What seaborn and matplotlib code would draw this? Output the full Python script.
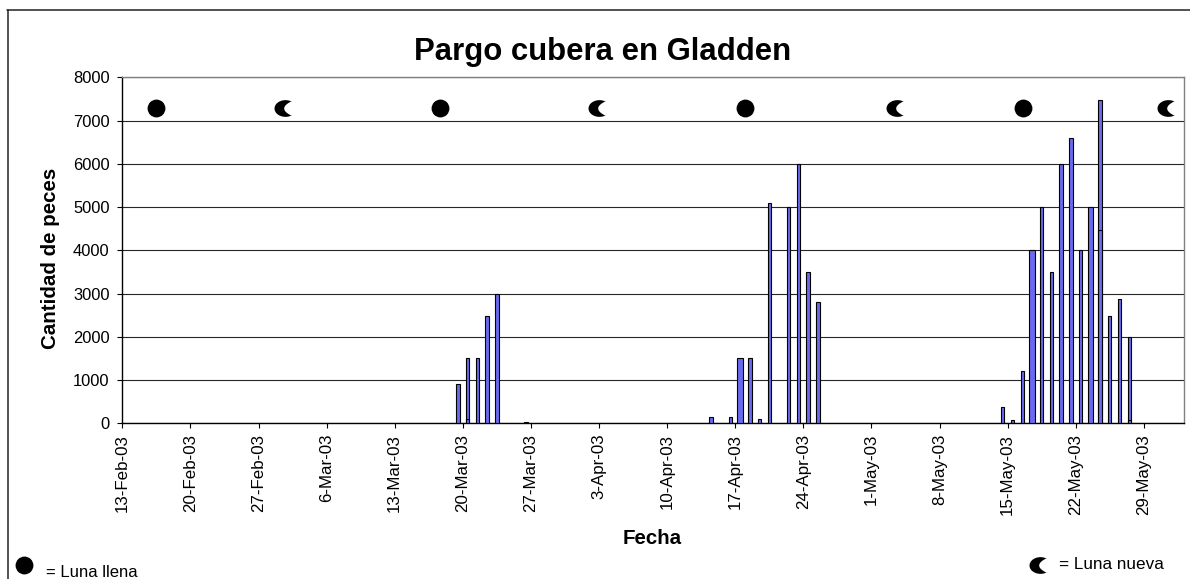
import numpy as np
import pandas as pd
import seaborn as sns
import matplotlib
matplotlib.use("Agg")
import matplotlib.pyplot as plt
from matplotlib.lines import Line2D
from matplotlib.path import Path

# ---- data -------------------------------------------------------------
start = "2003-02-13"
main_dates = ["2003-03-19", "2003-03-20", "2003-03-21", "2003-03-22", "2003-03-23", "2003-03-26",
              "2003-04-14", "2003-04-16", "2003-04-18", "2003-04-19", "2003-04-20", "2003-04-22",
              "2003-04-23", "2003-04-24", "2003-04-25",
              "2003-05-14", "2003-05-15", "2003-05-16", "2003-05-18", "2003-05-19", "2003-05-20",
              "2003-05-21", "2003-05-22", "2003-05-24", "2003-05-25", "2003-05-26", "2003-05-27"]
main_values = [900, 1500, 1500, 2480, 3000, 40,
               150, 150, 1500, 100, 5100, 5000,
               6000, 3500, 2800,
               370, 80, 1200, 5000, 3500, 6000,
               6600, 4000, 7480, 2480, 2880, 2000]
wide_dates = ["2003-04-17", "2003-05-17", "2003-05-23"]
wide_values = [1500, 4000, 5000]
second_dates = ["2003-03-20", "2003-05-24", "2003-05-27"]
second_values = [100, 4480, 80]
full_moon_days = [3.5, 32.7, 64.0, 92.6]
new_moon_days = [16.7, 49.0, 79.6, 107.5]
moon_level = 7290
tick_labels = ["13-Feb-03", "20-Feb-03", "27-Feb-03", "6-Mar-03", "13-Mar-03", "20-Mar-03",
               "27-Mar-03", "3-Apr-03", "10-Apr-03", "17-Apr-03", "24-Apr-03", "1-May-03",
               "8-May-03", "15-May-03", "22-May-03", "29-May-03"]
y_ticks = [0, 1000, 2000, 3000, 4000, 5000, 6000, 7000, 8000]


def days(ds, shift=0.5):
    return np.asarray((pd.to_datetime(ds) - pd.Timestamp(start)).days, dtype=float) + shift


# ---- style ------------------------------------------------------------
sns.set_style("white")
plt.rcParams["font.family"] = ["Liberation Sans", "DejaVu Sans"]
plt.rcParams["text.color"] = "black"

W, H = 1190, 579
fig = plt.figure(figsize=(W / 100, H / 100), dpi=100)
ax = fig.add_axes([122.3 / W, 1 - 423.3 / H, (1183.7 - 122.3) / W, (423.3 - 77.3) / H])

BAR = "#6A6AF0"
kw = dict(color=BAR, saturation=1, edgecolor="black", linewidth=0.8, native_scale=True, ax=ax, zorder=3)
# native_scale multiplies width by the smallest gap between the x values of each call
sns.barplot(x=days(main_dates), y=main_values, width=0.35, **kw)
sns.barplot(x=days(wide_dates), y=wide_values, width=0.55 / 6, **kw)
sns.barplot(x=days(second_dates), y=second_values, width=0.35 / 3, **kw)

# crescent marker: outer elliptical arc, horn tips, then a concave inner curve
a = np.radians(np.linspace(60, 300, 50))
t = np.linspace(-1, 1, 25)
cres = np.vstack([[[0.6, 0.68]],
                  np.c_[np.cos(a), 0.76 * np.sin(a)],
                  np.c_[-0.12 + 0.72 * t ** 2, 0.68 * t]])
cres_path = Path(np.vstack([cres, cres[0]]), closed=True)

sns.scatterplot(x=full_moon_days, y=[moon_level] * len(full_moon_days), marker="o", s=165,
                color="black", linewidth=0, ax=ax, zorder=4, clip_on=False)
sns.scatterplot(x=new_moon_days, y=[moon_level] * len(new_moon_days), marker=cres_path, s=250,
                color="black", linewidth=0, ax=ax, zorder=4, clip_on=False)

ax.set_xlim(0, 109.1)
ax.set_ylim(0, 8000)
ax.set_xticks(np.arange(len(tick_labels)) * 7)
ax.set_xticklabels(tick_labels, rotation=90, fontsize=12.2, color="black")
ax.set_yticks(y_ticks)
ax.set_yticklabels([str(v) for v in y_ticks], fontsize=11.9, color="black")
ax.tick_params(axis="both", which="major", length=3.6, width=0.8, color="black", bottom=True, left=True, pad=4)
ax.tick_params(axis="y", pad=5.5)
ax.set_axisbelow(True)
ax.yaxis.grid(True, color="#262626", linewidth=0.8)
ax.xaxis.grid(False)
for s in ("left", "bottom"):
    ax.spines[s].set_color("black")
    ax.spines[s].set_linewidth(1.0)
for s in ("top", "right"):
    ax.spines[s].set_color("#808080")
    ax.spines[s].set_linewidth(1.0)
    ax.spines[s].set_visible(True)

ax.set_xlabel("")
ax.set_ylabel("")


def fx(x):
    return x / W


def fy(y):
    return 1 - y / H


fig.text(fx(603), fy(60), "Pargo cubera en Gladden", ha="center", va="baseline", fontsize=22.4, fontweight="bold")
fig.text(fx(50), fy(258), "Cantidad de peces", ha="center", va="center", rotation=90, fontsize=14.8, fontweight="bold")
fig.text(fx(652), fy(538), "Fecha", ha="center", va="center", fontsize=14.8, fontweight="bold")
fig.text(fx(46), fy(577), "= Luna llena", ha="left", va="baseline", fontsize=12)
fig.text(fx(1059), fy(569), "= Luna nueva", ha="left", va="baseline", fontsize=12.3)

# outer chart frame (left and top edges visible)
fig.add_artist(Line2D([fx(7.5), fx(7.5)], [fy(579), fy(10)], color="#222222", lw=1.1))
fig.add_artist(Line2D([fx(7), fx(1190)], [fy(10), fy(10)], color="#222222", lw=1.1))

# legend glyphs
leg = fig.add_axes([0, 0, 1, 1], facecolor="none")
leg.set_axis_off()
leg.set_xlim(0, W)
leg.set_ylim(H, 0)
sns.scatterplot(x=[23.5], y=[565], marker="o", s=165, color="black", linewidth=0, ax=leg)
sns.scatterplot(x=[1040], y=[565], marker=cres_path, s=250, color="black", linewidth=0, ax=leg)

fig.savefig("out.png", dpi=100)
